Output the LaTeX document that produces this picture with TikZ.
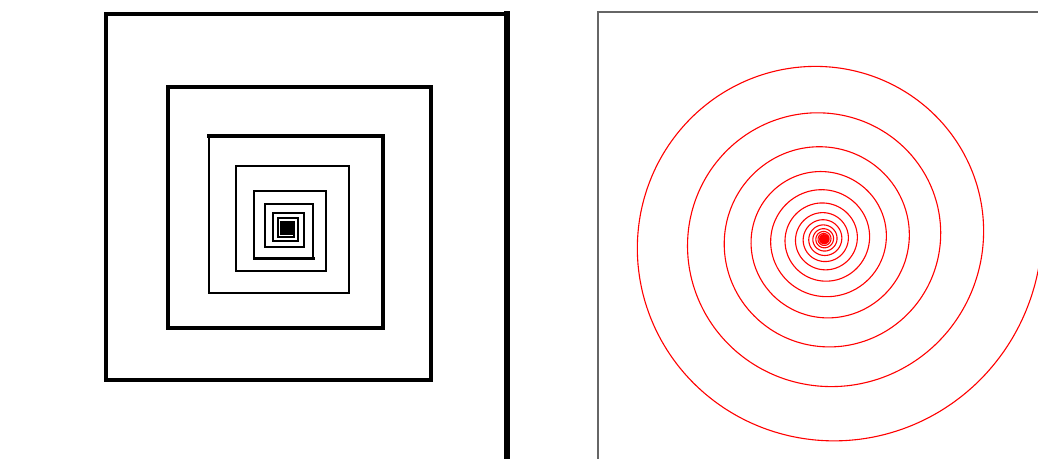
\documentclass[tikz,border=0pt]{standalone}
\begin{document}
\begin{tikzpicture}[x=1pt,y=-1pt,
  sq/.style={black,line cap=rect},
  framegray/.style={draw=black!60,line width=1.1pt},
  redspiral/.style={red,line width=1.1pt,line join=round}]
\useasboundingbox (0,0) rectangle (1038,458);
% ---- left: square spiral (outer part, measured corners)
\foreach \ax/\ay/\bx/\by/\w in {
  507/470/507/14/5.2,
  507/14/106/14/4.4,
  106/14/106/380/4.2,
  106/380/431/380/4.0,
  431/380/431/87/3.6,
  431/87/168/87/3.6,
  168/87/168/328/3.4,
  168/328/383/328/3.4,
  383/328/383/136/3.2,
  383/136/209/136/3.2,
  209/136/209/293/2.8,
  209/293/349/293/2.6,
  349/293/349/166/2.4,
  349/166/236/166/2.4,
  236/166/236/271/2.2,
  236/271/326/271/2.2,
  326/271/326/191/2.0,
  326/191/254/191/2.2,
  254/191/254/258/2.0,
  254/258/313/258/3.0,
  313/258/313/204/2.0,
  313/204/265/204/2.0,
  265/204/265/247/2.0,
  265/247/304/247/2.2,
  304/247/304/213/2.0}
  {\draw[sq,line width=\w pt] (\ax,\ay) -- (\bx,\by);}
% ---- left: square spiral (inner continuation, ratio 0.9)
\xdef\cx{304}\xdef\cy{213}\xdef\len{31}
\foreach \i in {0,...,47}{
  \pgfmathtruncatemacro\d{mod(\i,4)}
  \pgfmathsetmacro\nx{\d==2 ? \cx+\len : (\d==0 ? \cx-\len : \cx)}
  \pgfmathsetmacro\ny{\d==1 ? \cy+\len : (\d==3 ? \cy-\len : \cy)}
  \draw[sq,line width=1.8pt] (\cx,\cy) -- (\nx,\ny);
  \pgfmathsetmacro\nl{\len*0.9}
  \xdef\cx{\nx}\xdef\cy{\ny}\xdef\len{\nl}
}
% ---- right: frame
\draw[framegray] (598,470) -- (598,12) -- (1050,12);
% ---- right: logarithmic red spiral
\draw[redspiral] plot[domain=0:7200,samples=1800,smooth=false,variable=\t]
  ({824+218*exp(-0.000866*\t)*cos(\t)},{239+218*exp(-0.000866*\t)*sin(\t)});
\end{tikzpicture}
\end{document}
